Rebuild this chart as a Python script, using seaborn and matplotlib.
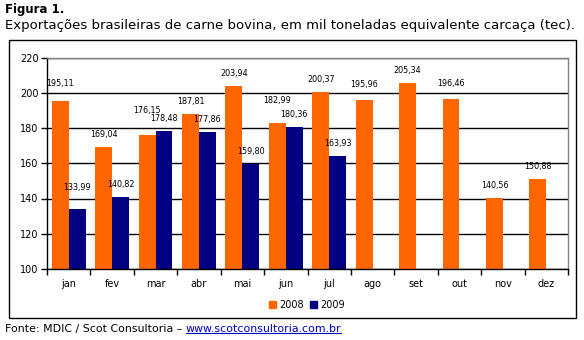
import matplotlib
matplotlib.use("Agg")
import matplotlib.pyplot as plt
from matplotlib.patches import Rectangle
from matplotlib.lines import Line2D
import numpy as np
import pandas as pd
import seaborn as sns

months = ["jan", "fev", "mar", "abr", "mai", "jun", "jul", "ago", "set", "out", "nov", "dez"]
v2008 = [195.11, 169.04, 176.15, 187.81, 203.94, 182.99, 200.37, 195.96, 205.34, 196.46, 140.56, 150.88]
v2009 = [133.99, 140.82, 178.48, 177.86, 159.80, 180.36, 163.93, np.nan, np.nan, np.nan, np.nan, np.nan]
series = ["2008", "2009"]
colors = ["#FF6600", "#000080"]

title = "Figura 1."
subtitle = "Exportações brasileiras de carne bovina, em mil toneladas equivalente carcaça (tec)."
source = "Fonte: MDIC / Scot Consultoria – "
link = "www.scotconsultoria.com.br"

df = pd.DataFrame({
    "mes": months * 2,
    "valor": v2008 + v2009,
    "ano": [series[0]] * 12 + [series[1]] * 12,
})

sns.set_style("white")
plt.rcParams["font.family"] = ["DejaVu Sans"]
plt.rcParams["text.color"] = "black"
plt.rcParams["xtick.labelcolor"] = "black"
plt.rcParams["ytick.labelcolor"] = "black"

fig = plt.figure(figsize=(5.84, 3.40), dpi=100)
ax = fig.add_axes([47 / 584, 1 - 269 / 340, (568 - 47) / 584, (269 - 57.5) / 340])

sns.barplot(data=df, x="mes", y="valor", hue="ano", palette=colors, width=0.78,
            gap=0, saturation=1, ax=ax, legend=False, errorbar=None, linewidth=0)

ax.set_ylim(100, 220)
ax.set_yticks(np.arange(100, 221, 20))
ax.set_xlim(-0.5, 11.5)
ax.set_xlabel("")
ax.set_ylabel("")
ax.set_axisbelow(True)
ax.yaxis.grid(True, color="black", linewidth=1)
ax.xaxis.grid(False)
for s in ["top", "right"]:
    ax.spines[s].set_color("#808080")
    ax.spines[s].set_linewidth(1)
for s in ["left", "bottom"]:
    ax.spines[s].set_color("black")
    ax.spines[s].set_linewidth(1)

ax.tick_params(axis="y", which="major", direction="out", length=4, width=1, color="black",
               labelsize=7, pad=2, left=True, labelcolor="black")
ax.tick_params(axis="x", which="major", length=0, labelsize=7, pad=7, labelcolor="black")
ax.set_xticks(np.arange(-0.5, 12, 1), minor=True)
ax.tick_params(axis="x", which="minor", direction="out", length=4, width=1, color="black", bottom=True)

# data labels
extra = {(0, 0): 5, (0, 2): 12, (1, 0): 9, (0, 5): 10, (0, 7): 3, (0, 9): 3}
for si, cont in enumerate(ax.containers):
    vals = v2008 if si == 0 else v2009
    for mi, (bar, v) in enumerate(zip(cont, vals)):
        if np.isnan(v):
            continue
        lab = f"{v:.2f}".replace(".", ",")
        off = 8 + extra.get((si, mi), 0)
        ax.annotate(lab, (bar.get_x() + bar.get_width() / 2, v), xytext=(0, off * 0.72),
                    textcoords="offset points", ha="center", va="bottom", fontsize=5.8,
                    color="black")

# legend
handles = [Rectangle((0, 0), 1, 1, color=c) for c in colors]
fig.legend(handles, series, loc="center", bbox_to_anchor=(307 / 584, 1 - 305 / 340), ncol=2,
           frameon=False, fontsize=7, handlelength=0.7, handleheight=0.7, handletextpad=0.4,
           columnspacing=0.6, borderpad=0, labelcolor="black")

# outer frame
fig.patches.append(Rectangle((9 / 584, 1 - 318 / 340), 567 / 584, 278 / 340, transform=fig.transFigure,
                             fill=False, edgecolor="black", linewidth=1))

fig.text(5 / 584, 1 - 10 / 340, title, fontsize=8.5, fontweight="bold", va="center", ha="left")
fig.text(5 / 584, 1 - 25 / 340, subtitle, fontsize=9.5, va="center", ha="left")
t1 = fig.text(5 / 584, 1 - 329 / 340, source, fontsize=7.9, va="center", ha="left")
fig.canvas.draw()
r = fig.canvas.get_renderer()
bb = t1.get_window_extent(r)
t2 = fig.text(bb.x1 / 584, 1 - 329 / 340, link, fontsize=7.9, va="center", ha="left", color="#0000CC")
fig.canvas.draw()
bb2 = t2.get_window_extent(r)
y_ul = (bb2.y0 + 1) / 340
fig.add_artist(Line2D([bb2.x0 / 584, bb2.x1 / 584], [y_ul, y_ul], transform=fig.transFigure,
                      color="#0000CC", linewidth=0.8))

fig.savefig("out.png", dpi=100)
